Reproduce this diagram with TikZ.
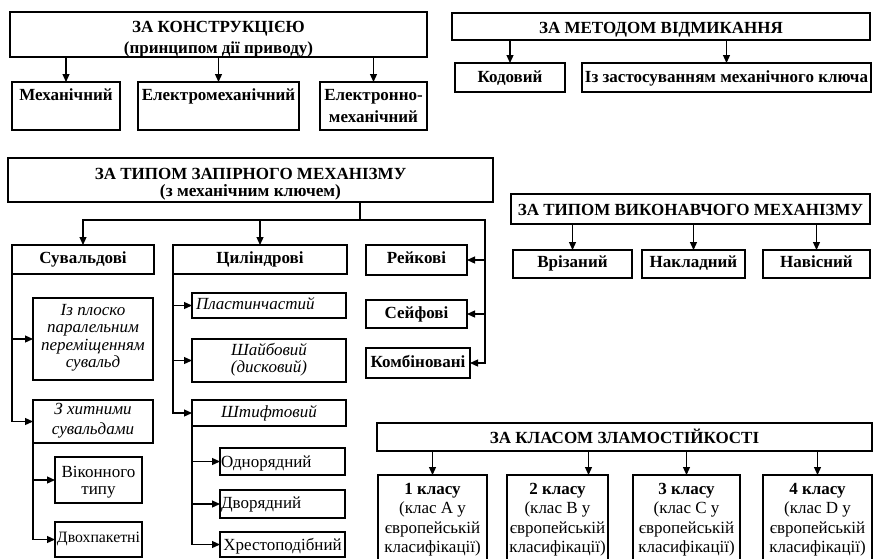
\documentclass[tikz,border=0pt]{standalone}
\usepackage{fontspec}
\setmainfont{Liberation Serif}
\usetikzlibrary{arrows.meta}
\tikzset{
  bx/.style={draw, line width=1.2pt, inner sep=0pt, outer sep=0pt},
  conn/.style={line width=1.2pt},
  arr/.style={conn, -{Triangle[length=8pt,width=7pt]}},
}
% #1 extra style, #2 name, #3 x1, #4 y1, #5 x2, #6 y2, #7 first baseline offset, #8 text
\newcommand\bx[8][]{%
  \node[bx,#1,minimum width={#5pt-#3pt},minimum height={#6pt-#4pt}] (#2) at ({(#3+#5)/2},{(#4+#6)/2})
  {\parbox[c][\dimexpr#6pt-#4pt\relax][t]{\dimexpr#5pt-#3pt\relax}{\centering\rule{0pt}{#7pt}#8\par}};}
\newcommand\fs[2]{\fontsize{#1}{#2}\selectfont}
\begin{document}
\begin{tikzpicture}[x=1pt,y=-1pt]
\useasboundingbox (0,0) rectangle (873,558);
% ---- За конструкцією
\bx{kon}{10}{12}{427}{57}{20}{\fs{17}{21}\bfseries ЗА КОНСТРУКЦІЄЮ\\(принципом дії приводу)}
\bx{mech}{12}{82}{120}{130}{18}{\fs{17}{22}\bfseries Механічний}
\bx{elmech}{138}{82}{299}{130}{18}{\fs{17}{22}\bfseries Електромеханічний}
\bx{elnmech}{320}{82}{427}{130}{18}{\fs{17}{22}\bfseries Електронно-\\механічний}
\foreach \c in {mech,elmech,elnmech} \draw[arr] (kon.south -| \c.north) -- (\c.north);
% ---- За методом відмикання
\bx{met}{452}{13}{870}{40}{20}{\fs{17}{20}\bfseries ЗА МЕТОДОМ ВІДМИКАННЯ}
\bx{kod}{455}{63}{565}{92}{19}{\fs{17}{20}\bfseries Кодовий}
\bx{zast}{582}{63}{871}{92}{19}{\fs{17}{20}\bfseries Із застосуванням механічного ключа}
\foreach \c in {kod,zast} \draw[arr] (met.south -| \c.north) -- (\c.north);
% ---- За типом запірного механізму
\bx{zap}{8}{158}{493}{202}{21}{\fs{17}{17}\bfseries ЗА ТИПОМ ЗАПІРНОГО МЕХАНІЗМУ\\\fs{17.3}{17}(з механічним ключем)}
\bx{suv}{12}{245}{154}{274}{18}{\fs{17}{20}\bfseries Сувальдові}
\bx{cyl}{173}{245}{347}{274}{18}{\fs{17}{20}\bfseries Циліндрові}
\bx{reik}{366}{245}{467}{275}{18}{\fs{17}{20}\bfseries Рейкові}
\bx{seif}{366}{300}{467}{328}{18}{\fs{17}{20}\bfseries Сейфові}
\bx{komb}{366}{348}{470}{378}{19}{\fs{17}{20}\bfseries Комбіновані}
\coordinate (j) at (360,220);
\coordinate (r) at (485,220);
\draw[conn] (zap.south -| j) -- (j);
\draw[arr] (j) -| (suv.north);
\draw[arr] (j) -| (cyl.north);
\draw[arr] (j) -- (r) |- (komb.east);
\draw[arr] (reik.east -| r) -- (reik.east);
\draw[arr] (seif.east -| r) -- (seif.east);
% Сувальдові
\bx{plosk}{33}{298}{153}{380}{17}{\fs{17}{17.5}\itshape Із плоско\\паралельним\\переміщенням\\сувальд}
\bx{khyt}{33}{400}{153}{443}{14}{\fs{17}{20}\itshape З хитними\\сувальдами}
\bx{vik}{55}{457}{142}{503}{20}{\fs{17}{17}Віконного\\типу}
\bx{dvokh}{55}{522}{142}{557}{20}{\fs{15.8}{20}Двохпакетні}
\draw[arr] (suv.south west) |- (plosk.west);
\draw[arr] (suv.south west) |- (khyt.west);
\draw[arr] (khyt.south west) |- (vik.west);
\draw[arr] (khyt.south west) |- (dvokh.west);
% Циліндрові
\bx{plast}{192}{293}{346}{318}{16}{\fs{17}{20}\itshape\raggedright\hspace*{4pt}Пластинчастий}
\bx{shaib}{192}{339}{346}{382}{16}{\fs{17}{17}\itshape Шайбовий\\(дисковий)}
\bx{shtyf}{192}{400}{346}{426}{17}{\fs{17}{20}\itshape Штифтовий}
\bx{odn}{220}{448}{345}{475}{19}{\fs{17}{20}\raggedright\hspace*{1pt}Однорядний}
\bx{dvor}{220}{490}{345}{518}{18}{\fs{17}{20}\raggedright\hspace*{1pt}Дворядний}
\bx{khrest}{220}{532}{345}{557}{18}{\fs{17}{20}Хрестоподібний}
\draw[arr] (cyl.south west) |- (plast.west);
\draw[arr] (cyl.south west) |- (shaib.west);
\draw[arr] (cyl.south west) |- (shtyf.west);
\draw[arr] (shtyf.south west) |- (odn.west);
\draw[arr] (shtyf.south west) |- (dvor.west);
\draw[arr] (shtyf.south west) |- (khrest.west);
% ---- За типом виконавчого механізму
\bx{vyk}{511}{194}{870}{224}{21}{\fs{17}{20}\bfseries ЗА ТИПОМ ВИКОНАВЧОГО МЕХАНІЗМУ}
\bx{vriz}{513}{250}{632}{278}{17}{\fs{17}{20}\bfseries Врізаний}
\bx{nakl}{642}{250}{745}{278}{17}{\fs{17}{20}\bfseries Накладний}
\bx{navis}{763}{250}{870}{278}{17}{\fs{17}{20}\bfseries Навісний}
\foreach \c in {vriz,nakl,navis} \draw[arr] (vyk.south -| \c.north) -- (\c.north);
% ---- За класом зламостійкості
\bx{klas}{377}{423}{872}{451}{20}{\fs{17}{20}\bfseries ЗА КЛАСОМ ЗЛАМОСТІЙКОСТІ}
\bx{c1}{378}{475}{487}{562}{19}{\fs{17}{19.5}\textbf{1 класу}\\(клас А у\\європейській\\класифікації)}
\bx{c2}{507}{475}{608}{562}{19}{\fs{17}{19.5}\textbf{2 класу}\\(клас В у\\європейській\\класифікації)}
\bx{c3}{633}{475}{740}{562}{19}{\fs{17}{19.5}\textbf{3 класу}\\(клас С у\\європейській\\класифікації)}
\bx{c4}{763}{475}{872}{562}{19}{\fs{17}{19.5}\textbf{4 класу}\\(клас D у\\європейській\\класифікації)}
\coordinate (c2a) at ([xshift=31pt]c2.north);
\draw[arr] (klas.south -| c1.north) -- (c1.north);
\draw[arr] (klas.south -| c2a) -- (c2a);
\draw[arr] (klas.south -| c3.north) -- (c3.north);
\draw[arr] (klas.south -| c4.north) -- (c4.north);
\end{tikzpicture}
\end{document}
